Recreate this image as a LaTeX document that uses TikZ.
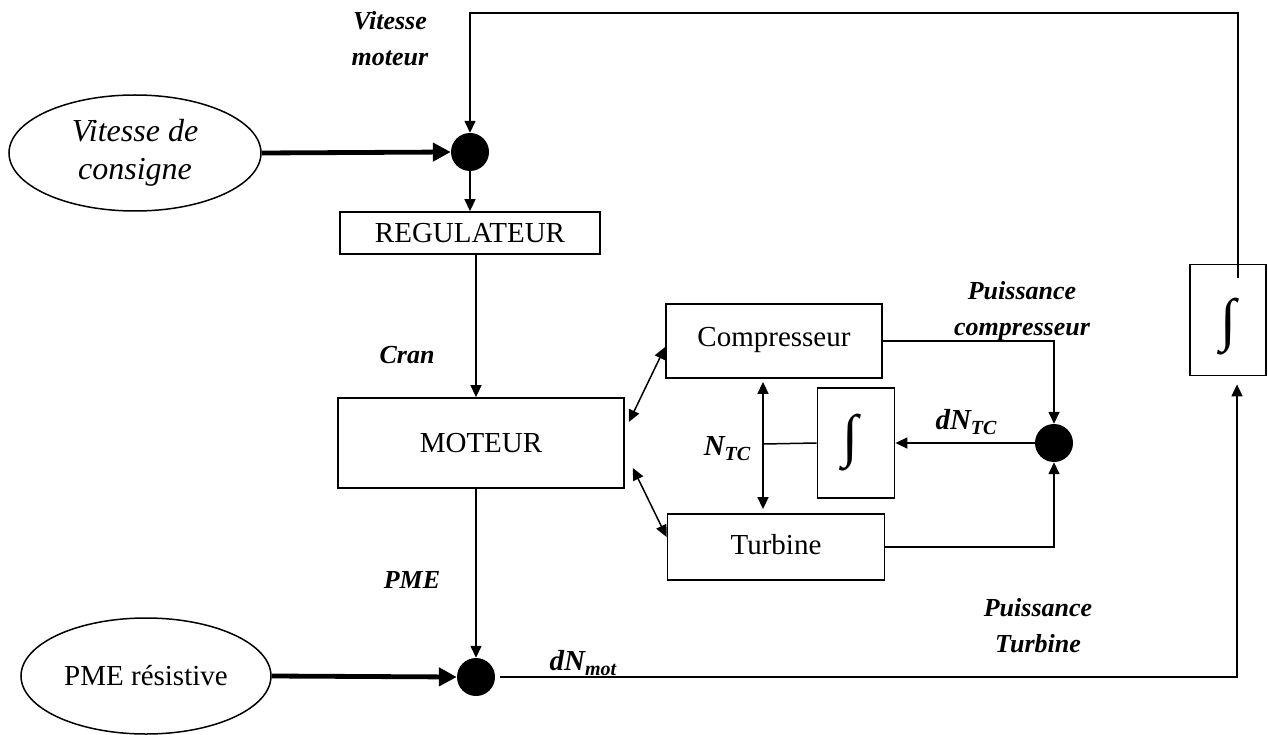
\documentclass[tikz,border=0pt]{standalone}
\usepackage{amsmath}
\usepackage{fontspec}
\setmainfont{Liberation Serif}
\usetikzlibrary{arrows.meta,shapes.geometric}
\tikzset{
  box/.style={draw, line width=1.8pt, inner sep=0pt, font=\fontsize{29}{33}\selectfont},
  sumdot/.style={circle, fill=black, minimum size=38pt, inner sep=0pt},
  oval/.style={ellipse, draw, line width=1.5pt, inner sep=0pt, align=center, font=\fontsize{32}{38}\selectfont},
  lab/.style={font=\fontsize{26}{36}\selectfont\bfseries\itshape, align=center, inner sep=0pt},
  symlab/.style={font=\fontsize{29}{33}\selectfont\bfseries\itshape, inner sep=0pt},
  arr/.style={line width=1.5pt, -{Triangle[length=12pt,width=11pt]}},
  darr/.style={line width=1.5pt, {Triangle[length=12pt,width=11pt]}-{Triangle[length=12pt,width=11pt]}},
  tharr/.style={line width=4.8pt, -{Triangle[length=18pt,width=18pt]}},
  plain/.style={line width=1.5pt},
  intsym/.style={font=\fontsize{58}{58}\selectfont}
}
\begin{document}
\begin{tikzpicture}[x=1pt,y=-1pt]
\useasboundingbox (0,0) rectangle (1268,735);
% nodes
\node[oval, minimum width=252pt, minimum height=116pt] (ell1) at (135,153) {\itshape Vitesse de\\\itshape consigne};
\node[sumdot] (dot1) at (470,152) {};
\node[box, minimum width=260pt, minimum height=42pt] (reg) at (470,233) {REGULATEUR};
\node[box, minimum width=286pt, minimum height=90pt] (mot) at (481,443) {MOTEUR};
\node[sumdot] (dot2) at (476,677) {};
\node[oval, minimum width=250pt, minimum height=116pt, font=\fontsize{29}{33}\selectfont] (ell2) at (146,676) {PME résistive};
\node[box, minimum width=216pt, minimum height=74pt] (comp) at (774,341) {\raisebox{9pt}{Compresseur}};
\node[box, minimum width=217pt, minimum height=66pt] (turb) at (776,547) {\raisebox{5pt}{Turbine}};
\node[box, intsym, minimum width=77pt, minimum height=110pt] (int1) at (856,443) {\kern-12pt∫};
\node[sumdot] (dot3) at (1054,443) {};
\node[box, intsym, minimum width=76pt, minimum height=111pt] (int2) at (1228,320) {\raisebox{-7pt}[\height][\depth]{∫}};
% labels
\node[lab] (lvm) at (390,39) {Vitesse\\moteur};
\node[lab] (lcran) at (407,355) {Cran};
\node[lab] (lpme) at (412,580) {PME};
\node[lab] (lpc) at (1022,311) {Puissance\\compresseur};
\node[lab] (lpt) at (1038,626) {Puissance\\Turbine};
\node[symlab] (lntc) at (727,449) {N\raisebox{-5pt}{\fontsize{20}{20}\selectfont TC}};
\node[symlab] (ldntc) at (966,422) {dN\raisebox{-5pt}{\fontsize{20}{20}\selectfont TC}};
\node[symlab] (ldnm) at (583,663) {dN\raisebox{-5pt}{\fontsize{20}{20}\selectfont mot}};
% helper coordinates
\coordinate (fbs) at (1238,278);
\coordinate (topc) at (1238,13);
\coordinate (rx) at (1237,0);
\coordinate (ntc) at (763,444);
% connectors
\draw[tharr] (ell1.east) -- (dot1.west);
\draw[tharr] (ell2.east) -- (dot2.west);
\draw[arr] (fbs) -- (topc) -| (dot1.north);
\draw[arr] (dot1.south) -- (reg.north);
\draw[arr] ([xshift=6pt]reg.south) -- ([xshift=-5pt]mot.north);
\draw[arr] ([xshift=-5pt]mot.south) -- (dot2.north);
\draw[arr, shorten <=5pt] (dot2.east) -| ([yshift=-8pt]int2.south -| rx);
\draw[darr] ([xshift=4pt,yshift=21pt]mot.east) -- ([yshift=-6pt]comp.west);
\draw[darr] ([xshift=8pt,yshift=-25pt]mot.east) -- ([yshift=10pt]turb.west);
\draw[darr] ([yshift=-3pt]ntc |- comp.south) -- ([yshift=4pt]ntc |- turb.north);
\draw[plain] (ntc) -- (int1.west);
\draw[arr] (dot3.west) -- (int1.east);
\draw[arr] (comp.east) -| (dot3.north);
\draw[arr] (turb.east) -| (dot3.south);
\end{tikzpicture}
\end{document}
